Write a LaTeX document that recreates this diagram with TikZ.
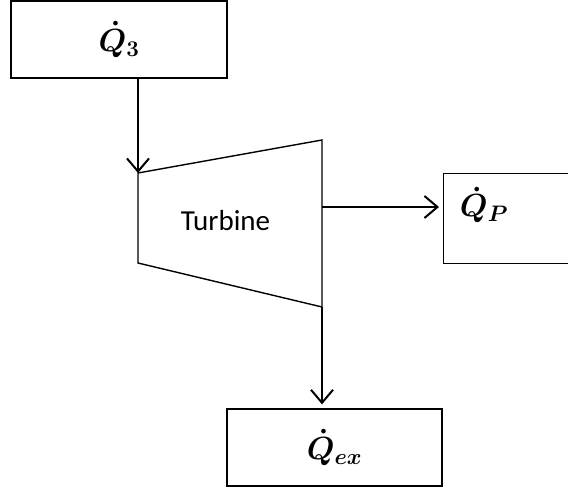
\RequirePackage{fix-cm}
\documentclass[tikz,border=0pt]{standalone}
\usepackage{amsmath,bm}
\usepackage{fontspec}
\setmainfont{Carlito}
\usetikzlibrary{arrows.meta, positioning}

\begin{document}
\begin{tikzpicture}[
  x=1pt, y=-1pt,
  every node/.style={font=\fontsize{32}{38}\selectfont\boldmath},
  flowbox/.style={draw, line width=1.3pt, inner sep=0pt,
               minimum width=216pt, minimum height=77pt},
  stage/.style={line width=1.4pt},
  arr/.style={-{Straight Barb[length=13pt, width=22pt]}, line width=2pt},
]
  \useasboundingbox (0,0) rectangle (568,489);

  \node[flowbox] (q3) at (119,39.5) {$\dot{Q}_{3}$};

  % turbine casing
  \coordinate (tl) at (138,173);
  \coordinate (tr) at (322,140);
  \coordinate (br) at (322,307);
  \coordinate (bl) at (138,263);
  \draw[stage] (tl) -- (tr) -- (br) -- (bl) -- cycle;
  \node[font=\fontsize{29}{34}\selectfont, anchor=base] (turb) at (225.5,231) {Turbine};

  \node[flowbox, minimum width=150pt, minimum height=90pt, anchor=north west]
    (qp) at (443,173) {};
  \node (qptxt) at (484,205) {$\dot{Q}_{P}$};

  \node[flowbox, minimum width=215pt] (qex) at (334.5,447.5) {$\dot{Q}_{ex}$};

  \coordinate (pout) at (322,207);
  \draw[arr] (tl |- q3.south) -- (tl);
  \draw[arr, shorten >=4pt] (pout) -- (qp.west |- pout);
  \draw[arr, shorten >=4pt] (br) -- (qex.north -| br);
\end{tikzpicture}
\end{document}
